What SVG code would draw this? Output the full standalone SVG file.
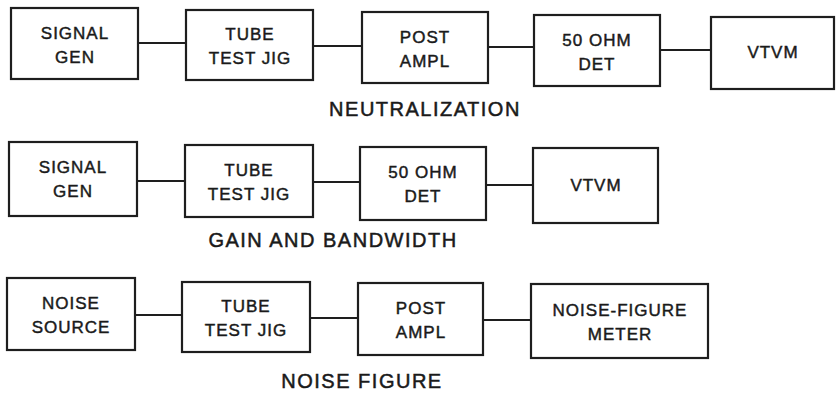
<svg xmlns="http://www.w3.org/2000/svg" width="837" height="393" viewBox="0 0 837 393">
<style>
.box{fill:none;stroke:#1e1e1e;stroke-width:2.2}
.wire{fill:none;stroke:#1e1e1e;stroke-width:2}
.lbl{font-family:"Liberation Sans",Arial,sans-serif;font-size:17px;letter-spacing:1px;fill:#1a1a1a;stroke:#1a1a1a;stroke-width:0.45;text-anchor:middle}
.cap{font-family:"Liberation Sans",Arial,sans-serif;font-size:20px;letter-spacing:1.5px;fill:#1a1a1a;stroke:#1a1a1a;stroke-width:0.5;text-anchor:middle}
</style>
<rect width="837" height="393" fill="#ffffff"/>
<g id="connectors">
<line class="wire" x1="138" y1="43" x2="186" y2="43"/>
<line class="wire" x1="313" y1="46" x2="362" y2="46"/>
<line class="wire" x1="488" y1="47" x2="534" y2="47"/>
<line class="wire" x1="660" y1="50" x2="711" y2="50"/>
<line class="wire" x1="137" y1="181" x2="185" y2="181"/>
<line class="wire" x1="313" y1="182" x2="360" y2="182"/>
<line class="wire" x1="486" y1="185" x2="533" y2="185"/>
<line class="wire" x1="135" y1="315" x2="182" y2="315"/>
<line class="wire" x1="310" y1="318" x2="358" y2="318"/>
<line class="wire" x1="483" y1="320" x2="531" y2="320"/>
</g>
<g id="r1-siggen"><rect class="box" x="11" y="8" width="127" height="71"/><text class="lbl" x="75" y="39">SIGNAL</text><text class="lbl" x="75" y="63">GEN</text></g>
<g id="r1-tube"><rect class="box" x="186" y="10" width="127" height="70"/><text class="lbl" x="250" y="40">TUBE</text><text class="lbl" x="250" y="64">TEST JIG</text></g>
<g id="r1-post"><rect class="box" x="362" y="12" width="126" height="71"/><text class="lbl" x="425" y="43">POST</text><text class="lbl" x="425" y="67">AMPL</text></g>
<g id="r1-det"><rect class="box" x="534" y="15" width="126" height="71"/><text class="lbl" x="597" y="46">50 OHM</text><text class="lbl" x="597" y="70">DET</text></g>
<g id="r1-vtvm"><rect class="box" x="711" y="17" width="123" height="72"/><text class="lbl" x="773" y="58">VTVM</text></g>
<text class="cap" x="425" y="116">NEUTRALIZATION</text>
<g id="r2-siggen"><rect class="box" x="9" y="142" width="128" height="74"/><text class="lbl" x="73" y="173">SIGNAL</text><text class="lbl" x="73" y="197">GEN</text></g>
<g id="r2-tube"><rect class="box" x="185" y="145" width="128" height="72"/><text class="lbl" x="249" y="176">TUBE</text><text class="lbl" x="249" y="200">TEST JIG</text></g>
<g id="r2-det"><rect class="box" x="360" y="147" width="126" height="73"/><text class="lbl" x="423" y="178">50 OHM</text><text class="lbl" x="423" y="202">DET</text></g>
<g id="r2-vtvm"><rect class="box" x="533" y="148" width="125" height="75"/><text class="lbl" x="596" y="191">VTVM</text></g>
<text class="cap" x="333" y="247">GAIN AND BANDWIDTH</text>
<g id="r3-noise"><rect class="box" x="7" y="278" width="128" height="72"/><text class="lbl" x="71" y="309">NOISE</text><text class="lbl" x="71" y="333">SOURCE</text></g>
<g id="r3-tube"><rect class="box" x="182" y="282" width="128" height="70"/><text class="lbl" x="246" y="312">TUBE</text><text class="lbl" x="246" y="336">TEST JIG</text></g>
<g id="r3-post"><rect class="box" x="358" y="283" width="125" height="72"/><text class="lbl" x="421" y="314">POST</text><text class="lbl" x="421" y="338">AMPL</text></g>
<g id="r3-nfm"><rect class="box" x="531" y="284" width="177" height="74"/><text class="lbl" x="620" y="316">NOISE-FIGURE</text><text class="lbl" x="620" y="340">METER</text></g>
<text class="cap" x="362" y="388">NOISE FIGURE</text>
</svg>
